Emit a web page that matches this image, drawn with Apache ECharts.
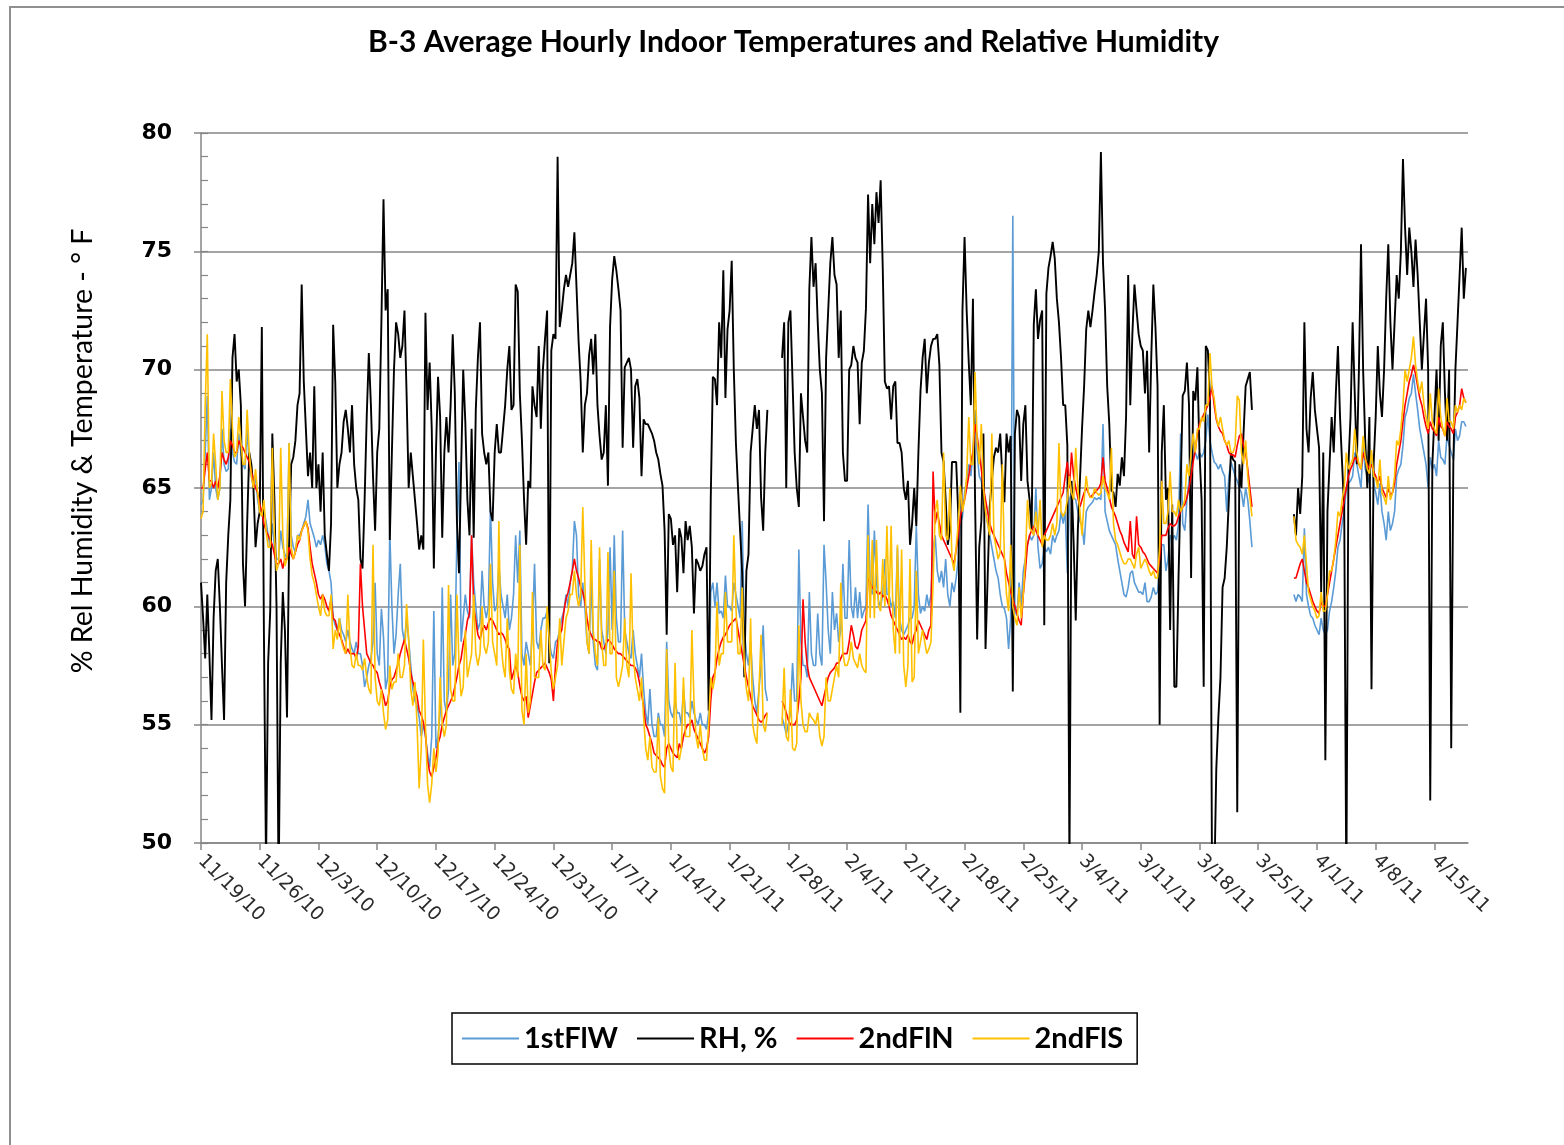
<!DOCTYPE html>
<html>
<head>
<meta charset="utf-8">
<script src="https://cdn.jsdelivr.net/npm/echarts@6/dist/echarts.min.js"></script>
<style>
  html, body { margin: 0; padding: 0; background: #ffffff; }
  #chart { width: 1564px; height: 1145px; }
</style>
</head>
<body>
<div id="chart"></div>
<script>
// Readings every 6 hours starting 11/19/2010 00:00 (x value = days since start)
const START_UTC = Date.UTC(2010, 10, 19);
const STEP_DAYS = 0.25;
const AXIS_DAYS = 151;
const weekTicks = [0, 7, 14, 21, 28, 35, 42, 49, 56, 63, 70, 77, 84, 91, 98, 105, 112, 119, 126, 133, 140, 147];
const seriesNames = ['1stFlW', 'RH, %', '2ndFlN', '2ndFlS'];
const N = null;

// 1st floor west temperature, °F
const flW1 = [
  64.3,64.5,66.5,68.9, 64.5,65,66.5,65, 64.5,65,67.5,66, 65.7,65.8,67.5,66.5, 66.1,66,67.3,66.5, 66,65.8,67.5,66, 65.5,65,65.5,64.5,
  64,63.8,64,63.6, 63,62.5,63.5,62.5, 62,62,63.2,62.5, 62.2,62,66.9,63, 62.5,62.3,63,63, 63.2,63.5,63.8,64.5, 63.5,63.2,62.9,62.5,
  62.8,62.6,63,62.6, 61.8,61.5,61,59.5, 59.2,59,59.5,59, 58.8,58.5,59,58.5, 58.2,58,58.5,58, 58,57.5,56.6,57, 57.5,57.8,58.5,61,
  58,57.5,59.9,58.7, 56.5,57,63.2,60, 58,58.8,60.5,61.8, 59,58.5,59.5,58.6, 57.5,56.5,56,55.8, 55.3,54.5,55,54.5, 53.8,53.2,54.5,59.8,
  54,54.5,55.5,60.8, 56,55.5,56.5,60.5, 57.5,58,63,66.1, 58.5,59.5,60.5,59.8, 59.5,63,61,60, 59,59.3,61.5,60, 59.5,60,64.2,61,
  59.8,60,61.8,60.5, 60,59.5,60.5,59, 59.5,60.5,63,61, 63.2,58,57.5,58.5, 58,57.5,59,61.8, 58.5,58.2,59,59.5, 59.5,59.8,58.5,58,
  57.8,58.5,58.6,59, 59.5,59.8,60.5,60, 61,61.5,63.6,63, 60.5,60,61,60, 58.5,58,61.2,58.5, 57.5,57.3,62,59, 58.5,58,59,62.5,
  59,63,59.5,58.5, 58.5,63.2,59,58.5, 58,57.8,59,58, 57.5,57,58,56.5, 55.5,55,56.5,55, 54.5,54.5,55.5,55, 55,54.5,58.5,56,
  55.5,55.3,56,55.5, 55.5,55,56.5,55.5, 55.5,55.3,56,55.5, 55.2,55,55.5,55, 55,54.8,55.5,60.6, 61,60,61,59.7, 59.8,59.5,61.3,60,
  60,59.8,61,60.5, 60,59.5,63.6,59, 58,57.5,58.5,57, 56,55.5,56.5,57.5, 59.2,56.5,56,N, N,N,N,N, N,55.3,55,54.6,
  55,55.5,57.6,56, 56,62.4,58.5,57.5, 57.5,57,60.6,58, 57.5,57.5,59.7,58, 57.5,62.6,61,59, 58,60.6,59,59.7, 58.5,59,61.8,59.5,
  59.5,62.8,60,59.5, 60.8,59.5,60.6,59.5, 59.8,60,64.3,61, 60.5,63.2,61,60.2, 60,60.5,62,60.5, 60.5,60,60.2,59.5, 62.5,59.5,59,58.8,
  59,59.2,59.5,59.5, 60,63.4,60.5,59.7, 60,59.8,60.5,60, 60.5,62.5,63,61.5, 61,61.5,60.8,62, 60.5,60,61,60.6, 61.2,62,63.5,63.8,
  64.8,65.3,66,65.5, 66.5,68.3,66.5,65.5, 65.3,64.5,64,63.5, 63,62.5,62,61.5, 61.2,60.5,60,59.9, 59.5,58.2,59.5,76.5, 59.8,59.6,61,60,
  61.5,62,62.6,63, 62.8,63,65,62.5, 61.6,61.8,62.5,62.3, 62.5,62.2,63,62.7, 63,63.2,64,63.5, 64,61.4,64.5,64.8, 64.6,64.5,64,63.6,
  63.4,62.6,64,64.2, 64.3,64.4,64.6,64.5, 64.6,64.5,67.7,64, 63.6,63.2,63,62.8, 62.6,62,61.5,61, 60.5,60.4,60.8,61.4, 61.5,61,60.8,60.6,
  60.6,60.5,61,60.2, 60.2,60.4,60.8,60.5, 60.6,61.5,62.6,62.6, 61.5,62,63,62.8, 63,62.8,63.5,67.3, 63.5,63.2,64.5,65.3, 66,66.3,66.5,66.2,
  66.5,66.3,66.5,67, 68.1,67,66.5,66.1, 66,65.8,66,65.7, 65.5,64,65.5,66.1, 65.8,65.5,65.3,65, 64.8,64.2,65,64.5, 63.6,62.5,N,N,
  N,N,N,N, N,N,N,N, N,N,N,N, N,N,N,N, N,60.5,60.2,60.5, 60.4,60.2,63.3,60.5, 60,59.6,59.5,59.2,
  59,58.8,59.5,59, 58.8,59,59.8,60.2, 60.8,61.5,62.5,62.8, 63.5,64,65,65.2, 65.3,65.5,66.5,66, 65.5,65,66.8,65.8, 65.5,65.2,66.5,65.2,
  64.8,64.3,65.2,64, 63.5,62.8,64,63.2, 63.5,64,65.5,65.8, 66,66.8,68,68.3, 68.8,69,69.8,69, 68.3,67.5,67,66.5, 66,65,66.3,65.8,
  66,65.5,67,66.3, 66.2,66,67.2,66.8, 66.5,66.2,67.5,67, 67.2,67.8,67.8,67.6
];

// Relative humidity, %
const rh = [
  61,59.5,57.8,60.5, 58,55.2,59.5,61.5, 62,60,57.5,55.2, 61,63,64.5,70.5, 71.5,69.5,70,68.5, 61.8,60,63.5,66.5, 66,65,62.5,63.5,
  64,71.8,58.8,49, 57.6,59.8,67.3,64.5, 60,48,57.6,60.6, 59,55.3,62.6,66, 66.3,67,68.5,69, 73.6,69.5,67.5,65.5, 66.5,65,69.3,65,
  66,64,66.5,63, 62.2,61.5,63.5,71.9, 69.5,65,66,66.5, 67.8,68.3,67.5,66.5, 68.5,66,65,64.5, 62,61.6,64.5,68, 70.7,68.5,65.5,63.2,
  66.5,67.5,72,77.2, 72.5,73.4,62.8,66.5, 70,72,71.5,70.5, 71,72.5,69,65, 66.5,65.5,64.5,63.5, 62.4,63,62.4,72.4, 68.3,70.3,67.5,61.6,
  66.5,69.7,68,62.9, 66.5,68,66.5,68.5, 71.5,69,63.6,61.4, 65.8,70,67.8,64.5, 63,67.5,62.9,68.3, 70.5,72,67.3,66.5, 66,66.5,64,63.6,
  66.5,67.7,66.5,66.5, 67.5,68.5,70,71, 68.3,68.5,73.6,73.3, 69,67,64.5,62.6, 65.3,65,69.3,68.5, 68,71,67.5,70, 71.3,72.5,57.6,70.8,
  71.5,71.3,79,71.8, 72.5,73.4,74,73.5, 74,74.5,75.8,73.5, 71.2,69.5,66.5,68.5, 69,70.6,71.3,69.8, 71.5,68.5,67.2,66.2, 66.5,68.5,65.1,71.8,
  73.8,74.8,74.2,73.4, 72.5,66.7,70.1,70.3, 70.5,70,66.7,69.3, 69.6,68.8,65.5,67.9, 67.7,67.7,67.5,67.3, 67,66.5,66.2,65.6, 65.1,63.2,58.8,63.9,
  63.7,62.6,63,60.6, 63.3,62.9,61.4,63.6, 62.8,63.4,62.5,59.7, 62,61.8,61.5,61.7, 62.2,62.5,55.6,64.5, 69.7,69.6,68.5,72, 70.5,74.2,68.8,71.7,
  72.5,74.6,70,66.9, 65,63.2,61.4,57, 61.5,62.2,66.5,67.5, 68.5,67.5,68.3,64.6, 63.2,66.5,68.3,N, N,N,N,N, N,70.5,72,65,
  72,72.5,69.5,66.5, 65,64.2,69,68, 67,66.5,73.4,75.6, 73.5,74.5,72,70, 69,63.6,70.5,72.5, 74.5,75.6,74,73.6, 70.5,72.5,66.5,65.3,
  65.3,70,70.2,71, 70.5,70.3,67.7,70.3, 70.8,72.6,77.4,74.5, 77,75.3,77.5,76.2, 78,74.3,69.5,69.2, 69.3,67.9,69.3,69.5, 66.9,66.9,66.5,65,
  64.5,65.3,62.6,63.5, 65,63.4,66.5,69.1, 70.5,71.3,69,70.3, 71,71.3,71.3,71.5, 70.2,66.5,66.1,64.5, 62.6,63.2,66.1,66.1, 66.1,63.9,55.5,72.5,
  75.6,72.5,70.3,68.5, 73,64.6,58.6,62.5, 63.6,67.3,58.2,61.2, 64.2,65.3,66.3,66.7, 66.5,67.3,65.5,64.4, 67.3,66.5,67.2,56.4, 67.3,68.3,68,65.3,
  67.7,68.5,65.3,64.5, 63.2,71.9,73.4,71.3, 72.1,72.5,59.2,73.2, 74.3,74.8,75.4,74.7, 73,72,70.5,68.5, 68.5,66.8,49,65.3, 62.7,59.4,63.2,65.3,
  67.5,69.3,71.7,72.5, 71.8,72.5,73.3,74, 75,79.2,74.5,72.5, 69.3,67.7,64.9,64.8, 64.2,65.6,65.1,66.3, 65.5,68,74,68.5, 71.5,73.6,72.5,71.5,
  71,70.8,69,70.8, 66.5,70.5,73.6,71.8, 69.3,55,66.5,68.5, 64.5,65,59,64.3, 56.6,56.6,61.2,65, 68.9,69.1,70.3,68.5, 61.2,69.1,68.7,70.1,
  66.5,64.5,56.6,71, 70.8,68.8,48,48, 53.1,55.3,57,60.8, 61.2,62.5,64.5,66.5, 66.2,66.1,51.3,66, 65,67.3,69.3,69.6, 69.9,68.3,N,N,
  N,N,N,N, N,N,N,N, N,N,N,N, N,N,N,N, N,63.9,63,65, 63.9,65.5,72,67.5, 66.5,68.8,69.9,68.3,
  67.5,66.7,60.6,66.5, 53.5,64,66,68, 66.5,69,71,68, 66,64,48,66, 68,72,69,66, 70,75.3,70,67, 65,68,56.5,66,
  68,71,69,68, 70,73,75.3,72, 70,72,74,73, 75,78.9,76,74, 76,75,73.5,75.5, 74,72,70,71.5, 73,70,51.8,66,
  68,70,67,71, 72,69,67,70, 54,66,70,72, 74,76,73,74.3
];

// 2nd floor north temperature, °F
const flN2 = [
  65,65,65.8,66.5, 65.3,65.3,65,65.3, 65,65.5,66.5,66.2, 66,66.3,67,66.8, 66.5,66.5,67,66.8, 66.7,66.5,66.3,66.1, 65.7,65.3,65,64.8,
  64.3,64,63.5,63.2, 63,62.8,62.6,62.2, 61.8,61.8,62,61.6, 62,62,62.5,62.2, 62,62.3,62.6,62.8, 63.2,63.4,63.6,63.3, 62.5,61.8,61.4,61,
  60.5,60.3,60.5,60.3, 60,59.8,60.3,59.5, 59.4,59,58.8,58.6, 58.3,58,58.2,58, 58,58,57.8,58.3, 61.8,60,59,58, 57.8,57.6,57.5,57.3,
  57.2,56.8,56.5,56.2, 55.8,56,56.6,56.9, 57,57.3,57.6,58, 58.3,58.6,58.2,57.8, 57.2,56.8,56.5,56.2, 55.6,55.4,55.1,54.6, 53.5,53,52.8,53.2,
  53.6,54.2,54.5,55, 55.3,55.6,55.8,56, 56.2,56.6,57,57.5, 57.8,58.4,58.8,59.4, 59.7,63,60,59.4, 58.8,58.6,59,59.2, 59,59.3,59.5,59.4,
  59.2,59,58.8,58.9, 58.8,58.6,58.3,58.2, 56.9,57.2,57.5,57.2, 56.6,56.2,56,56.2, 55.3,55.8,56.3,56.8, 57.2,57.3,57.4,57.5, 57.6,57.4,57.2,56.9,
  56,57.5,58.5,58.8, 59,59.8,60.3,60.6, 61,61.5,62,61.5, 61.2,60.8,60.6,60.2, 59.5,59,58.8,58.6, 58.6,58.5,58.5,58.2, 58.2,58.4,58.6,58.5,
  58.4,58.2,58.1,58, 58,57.9,57.8,57.7, 57.6,57.5,57.5,57.4, 57.2,56.8,56.3,55.8, 55,54.8,54.5,54.2, 53.8,53.7,53.6,53.5, 53.3,53.2,54,54.2,
  54,53.8,53.7,53.6, 54.2,54,54.5,54.8, 55,55,55.2,54.8, 54.6,54.4,54.2,54, 53.8,54,54.5,56, 57,57.2,57.8,58.2, 58.5,58.7,58.8,59,
  59.2,59.3,59.4,59.5, 59,58.5,58,57.5, 57,56.6,56.2,55.8, 55.6,55.4,55.2,55.1, 55.2,55.4,55.5,N, N,N,N,N, N,56,55.8,55.5,
  55.2,55,55,55, 55.2,56,57,60.3, 58.5,57.5,57,56.8, 56.6,56.4,56.2,56, 55.8,56.2,56.6,57, 57.2,57.3,57.4,57.6, 57.6,57.8,58,58,
  58,58.5,59.2,58.8, 58.3,58.2,58.5,59, 59.2,59.4,61.2,61, 60.8,60.7,60.6,60.5, 60.6,60.4,60.5,60.3, 60,59.6,59.4,59.2, 59,58.8,58.6,58.7,
  58.6,58.8,58.5,58.4, 58.8,59,59.4,59.2, 59,58.8,58.6,59, 59.2,65.7,63.5,64, 63.5,63,62.8,62.6, 62.4,62.2,62,61.8, 62.4,63,63.8,64.2,
  64.5,65,65.5,66.1, 66.5,67.7,67.2,66.5, 65.8,65,64.5,64, 63.5,63.2,63,62.8, 62.6,62.4,62.2,62, 61.4,61,60.6,60.3, 60,59.7,59.4,59.2,
  60.5,61.5,62.6,63, 63.2,63.4,63.2,63, 62.8,62.6,63,63.2, 63.4,63.6,63.8,64, 64.2,64.4,64.6,64.8, 65.5,66.1,65,66.5, 65.5,65,64.6,64.2,
  64.5,64.8,65,64.8, 64.6,64.7,64.8,64.9, 65,65.2,66.3,65.3, 65,64.6,64.2,64, 63.8,63.5,63.2,63, 62.7,62.5,62.3,63.6, 62.2,62,63.8,62.6,
  62.5,62.3,62.2,62, 61.8,61.7,61.6,61.5, 61.4,62,63,63, 63,63.3,63.5,63.4, 63.4,63.5,63.8,64, 64.2,64.3,64.6,65, 65.5,66.1,66.6,67.3,
  67.7,67.9,68.1,68.3, 68.5,68.8,69.3,68.5, 67.9,67.6,67.4,67.3, 67,66.8,66.5,66.4, 66.4,66.3,66.8,67.2, 67.3,66.8,66.5,65.8, 65,64.2,N,N,
  N,N,N,N, N,N,N,N, N,N,N,N, N,N,N,N, N,61.2,61.2,61.5, 61.8,62,61.5,61, 60.8,60.5,60.2,60,
  59.8,59.7,60.2,60, 60,60.5,61,61.5, 62,62.5,63,63.5, 64,64.5,65,65.5, 65.8,66,66.3,66.2, 66,65.8,66.5,66.2, 66,65.8,66,65.7,
  65.5,65.2,65.5,65, 64.8,64.6,65,64.7, 64.8,65.2,66,66.5, 67,67.8,68.5,69, 69.5,69.8,70.2,69.8, 69.3,68.8,68.5,68, 67.6,67.3,67.8,67.5,
  67.4,67.2,68,67.6, 67.5,67.2,67.8,67.6, 67.5,67.3,68,68.2, 68.5,69.2,68.8,68.6
];

// 2nd floor south temperature, °F
const flS2 = [
  63.7,64,68.5,71.5, 65,65.2,67.3,66, 64.5,65,69.1,67, 66.5,66.5,69.6,67.5, 66.3,66.5,68,67, 66,66,68.3,66.5, 65.5,65,65.8,64.8,
  64,63.8,64.5,63.2, 62.5,62.5,66.7,63, 61.5,61.8,66.7,63, 61.7,62,66.9,62.5, 62,62.3,63,62.8, 63.2,63.4,63.6,63.2, 62,61.3,61,60.5,
  60,59.6,60.5,59.8, 59.6,59.6,60.5,58.2, 59,58.6,59.5,58.5, 58.2,58,60.5,58.3, 57.5,57.4,58,57.5, 57.5,57.3,57.8,57, 56.5,56.3,62.6,57,
  56,55.8,56.5,55.5, 54.8,55.2,57.5,56.5, 56.8,56.8,58,57, 57,57.5,60.1,58.6, 56.5,55.8,56.8,55, 52.3,54,58.6,55, 52.5,51.7,52.5,54,
  53,53.8,57,55, 54.5,55,60.9,56.5, 56,56,60.5,57.5, 56.2,56.6,59,57, 57.5,58,60.5,58, 57.5,58,60,58.3, 58,58.5,61.8,58.5,
  58,57.5,63.6,58.5, 57.5,57,59.5,57.3, 56.5,56.3,58,57, 62.6,55.6,55,58, 55.5,56,60.6,57, 57,57,59,57.5, 57.3,60,58.6,57.2,
  56.5,57,57.5,59.5, 57.5,58.5,59.5,59.8, 60.5,60.5,61.5,60.5, 60,60.5,64.2,61, 58.5,58,62.8,59, 58,57.5,62.5,58.5, 57.5,57.5,62.3,58,
  58,61.5,57,56.6, 57,57.5,59.5,57.5, 57,61.4,58,57, 56.5,56,57,55.3, 54,53.5,54.5,53.2, 53,53,55.3,52.8, 52.3,52.1,58.2,54,
  53.2,53,57.6,54, 53.5,54,57,54.5, 54.5,54.5,59,56, 54.5,54,55,54, 53.5,53.5,55,57, 56.5,57,60.2,57.5, 58,58,60.6,58.5,
  58.5,58.5,63,60, 58,58,60.8,57.5, 56.5,56,59.5,55, 54.5,54.2,56.5,58.8, 55,54.7,55.5,N, N,N,N,N, N,55,57.4,54.5,
  54.3,56.5,54,53.9, 54.2,59.2,56,55, 54.7,54.7,55.5,55.3, 55.2,55,55.5,54.5, 54.1,54.5,57,56, 56,56.5,57,57.5, 57,61,58,57.5,
  57.5,57.8,58.5,57.8, 57.6,57.4,58,57.5, 57.3,57.2,63,59.5, 62.8,59.5,62.8,60, 59.8,62,60,63.4, 60,63.4,59,58, 62.6,58,62.4,57.5,
  56.6,57.5,62,56.8, 57,61.5,58,58.5, 59,58.5,58,58.2, 58.5,61,64,64.5, 63,62.8,66.5,63, 62.8,65,62,61.5, 62.5,63.5,65.1,64,
  64.5,65.5,68,66, 66,69.9,67,66, 67.7,65,64,63.5, 63,67.3,63,62.5, 62,62.3,66,62, 60.5,59.8,62.6,60, 59.5,59.2,60.8,59.5,
  60.5,62,64.5,63.3, 63.2,63,64,63, 64.5,62.5,63,62.8, 62.8,63,63.5,63, 63.5,66.9,64,63.8, 64,64.5,65.5,64.8, 64.5,66.7,65,64,
  63,64.5,65.5,64.8, 64.6,64.6,65,64.8, 64.7,64.8,65.5,65, 64.8,64.5,66.7,63.5, 62.8,62.6,62.3,62, 61.8,61.8,62,62, 61.8,61.6,62.2,62.5,
  61.6,61.8,62,61.8, 61.5,61.3,61.5,61.2, 61.2,62.5,65.3,63.5, 63.5,64,65.7,64, 64,63.8,64.5,64, 64.2,64.5,66,65.5, 66.5,67.3,66.5,67.5,
  67.5,68,67.8,68.5, 68.5,70.7,69.2,68.8, 68,67.6,68,67.5, 67,66.8,67,66.5, 66.5,66.8,68.9,68.7, 66.5,66,67,65.5, 64.6,63.8,N,N,
  N,N,N,N, N,N,N,N, N,N,N,N, N,N,N,N, N,63.8,62.8,62.6, 62.5,62.2,63,61.8, 60.6,60.3,60,59.8,
  59.5,59.6,60.6,59.8, 59.8,60.5,61.5,61.5, 62,62.8,64,63.8, 64.5,65,66.5,65.8, 66,66.2,67.5,66.5, 66,65.8,67.2,66.3, 65.8,65.6,66.6,65.5,
  65.4,65,66.2,64.8, 64.6,64.3,65.5,64.5, 64.8,65.5,67,66.8, 67.5,68.5,70,69.5, 70,70.5,71.4,70.2, 69.5,69,69.5,68.5, 68,67.5,69,67.8,
  67.5,67.3,69.2,68, 67.5,67.2,68.8,67.8, 67.8,67.5,68.5,68.2, 68.5,68.3,68.8,68.6
];

function dateLabel(day) {
  const d = new Date(START_UTC + Math.round(day) * 86400000);
  return (d.getUTCMonth() + 1) + '/' + d.getUTCDate() + '/' + String(d.getUTCFullYear()).slice(2);
}
function toPoints(values) {
  return values.map(function (v, i) { return [i * STEP_DAYS, v]; });
}

const gridGray = '#868686';
const palette = ['#5b9bd5', '#000000', '#ff0000', '#ffc000'];
const lineWidths = [1.6, 1.9, 1.6, 1.6];
const seriesValues = [flW1, rh, flN2, flS2];

const chart = echarts.init(document.getElementById('chart'), null, { renderer: 'canvas' });
chart.setOption({
  animation: false,
  backgroundColor: '#ffffff',
  color: palette,
  title: {
    text: 'B-3 Average Hourly Indoor Temperatures and Relative Humidity',
    left: 368,
    top: 27,
    padding: 0,
    textStyle: { fontFamily: 'Lato', fontWeight: 'bold', fontSize: 30, color: '#000000' }
  },
  graphic: [{
    type: 'rect',
    silent: true,
    shape: { x: 10, y: 7, width: 1700, height: 1300 },
    style: { fill: 'none', stroke: '#8f8f8f', lineWidth: 2 }
  }],
  legend: {
    data: seriesNames,
    icon: 'rect',
    left: 452,
    top: 1013,
    orient: 'horizontal',
    borderColor: '#000000',
    borderWidth: 1.5,
    padding: [11, 14, 11, 10],
    itemGap: 19,
    itemWidth: 57,
    itemHeight: 2,
    textStyle: { fontFamily: 'Lato', fontWeight: 'bold', fontSize: 29, color: '#000000' }
  },
  grid: { left: 201, right: 96, top: 133, bottom: 302, containLabel: false },
  xAxis: {
    type: 'value',
    min: 0,
    max: AXIS_DAYS,
    interval: 7,
    axisLine: { show: true, onZero: false, lineStyle: { color: gridGray, width: 1.5 } },
    axisTick: { show: true, customValues: weekTicks, length: 7, lineStyle: { color: gridGray, width: 1.5 } },
    axisLabel: {
      customValues: weekTicks,
      rotate: -45,
      margin: 15,
      formatter: dateLabel,
      fontFamily: 'DejaVu Sans',
      fontSize: 19,
      color: '#2a2a2a'
    },
    splitLine: { show: false }
  },
  yAxis: [{
    type: 'value',
    min: 50,
    max: 80,
    interval: 5,
    position: 'left',
    name: '% Rel Humidity & Temperature - ° F',
    nameLocation: 'middle',
    nameGap: 104,
    nameTextStyle: { fontFamily: 'Lato', fontSize: 28.5, color: '#000000', padding: [0, 0, 0, 74] },
    axisLine: { show: true, lineStyle: { color: gridGray, width: 1.5 } },
    axisTick: { show: true, length: 7, lineStyle: { color: gridGray, width: 1.5 } },
    axisLabel: { margin: 29, fontFamily: 'DejaVu Sans', fontWeight: 'bold', fontSize: 22, color: '#000000' },
    splitLine: { show: true, lineStyle: { color: gridGray, width: 1.5 } }
  }, {
    // minor ticks drawn on the inner side of the value axis
    type: 'value',
    min: 50,
    max: 80,
    interval: 1,
    position: 'left',
    axisLine: { show: false },
    axisTick: { show: true, inside: true, length: 7, lineStyle: { color: gridGray, width: 1.2 } },
    axisLabel: { show: false },
    splitLine: { show: false }
  }],
  series: seriesNames.map(function (name, k) {
    return {
      name: name,
      type: 'line',
      yAxisIndex: 0,
      data: toPoints(seriesValues[k]),
      showSymbol: false,
      symbol: 'none',
      connectNulls: false,
      clip: true,
      lineStyle: { width: lineWidths[k], color: palette[k] },
      itemStyle: { color: palette[k] },
      emphasis: { disabled: true }
    };
  })
});
</script>
</body>
</html>
